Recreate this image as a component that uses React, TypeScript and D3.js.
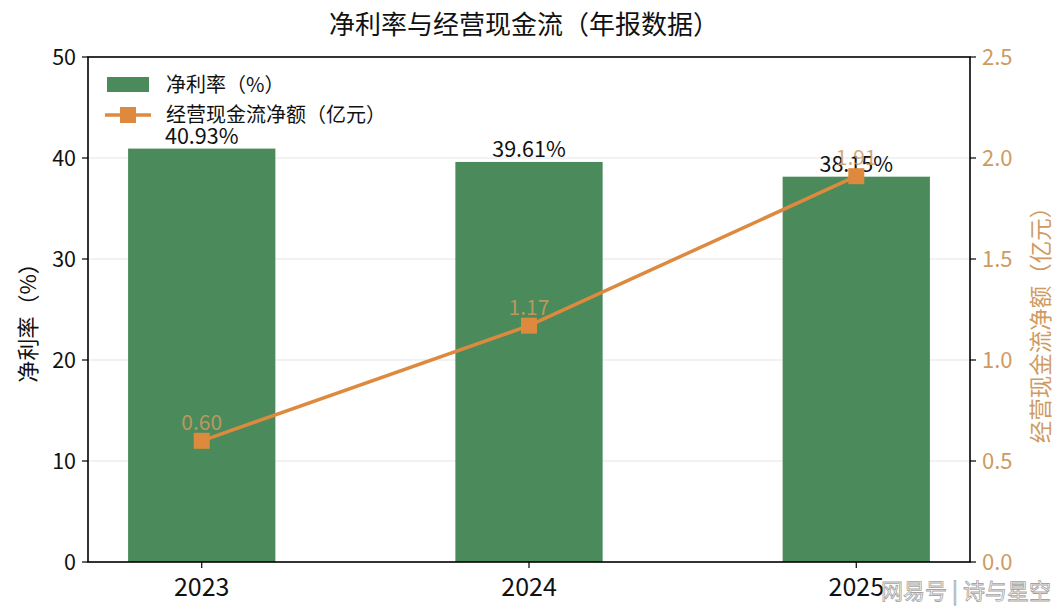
import React from "react";
import * as d3 from "d3";

const years = ["2023", "2024", "2025"];
const netMargin = [40.93, 39.61, 38.15];
const cashFlow = [0.6, 1.17, 1.91];
const leftTicks = [0, 10, 20, 30, 40, 50];
const rightTicks = [0, 0.5, 1.0, 1.5, 2.0, 2.5];

const W = 1064;
const H = 615;
const margin = { top: 57, right: 94, bottom: 53, left: 88 };
const FONT = "'Noto Sans CJK SC', 'Noto Sans', sans-serif";
const GREEN = "#4b8a5b";
const ORANGE = "#dd8a3f";
const TAN = "#cf9a62";

export default function App() {
  const w = W - margin.left - margin.right;
  const h = H - margin.top - margin.bottom;

  // matplotlib-style positions: bars at 0,1,2, width 0.45, 5% margins
  const barW = 0.45;
  const lo = -barW / 2;
  const hi = years.length - 1 + barW / 2;
  const pad = (hi - lo) * 0.05;
  const x = d3.scaleLinear().domain([lo - pad, hi + pad]).range([0, w]);
  const yL = d3.scaleLinear().domain([0, 50]).range([h, 0]);
  const yR = d3.scaleLinear().domain([0, 2.5]).range([h, 0]);

  const line = d3
    .line<number>()
    .x((_, i) => x(i))
    .y((d) => yR(d));

  return (
    <svg width={W} height={H} style={{ position: "absolute", left: 0, top: 0, fontFamily: FONT }}>
      <rect width={W} height={H} fill="#fff" />
      <text x={524} y={34} textAnchor="middle" fontSize={26} fill="#111">
        净利率与经营现金流（年报数据）
      </text>
      <g transform={`translate(${margin.left},${margin.top})`}>
        {/* grid */}
        {leftTicks.slice(1, -1).map((t) => (
          <line key={t} x1={0} x2={w} y1={yL(t)} y2={yL(t)} stroke="#e6e6e6" strokeWidth={1.2} />
        ))}
        {/* bars */}
        {netMargin.map((v, i) => (
          <rect
            key={i}
            x={x(i - barW / 2)}
            y={yL(v)}
            width={x(barW) - x(0)}
            height={h - yL(v)}
            fill={GREEN}
          />
        ))}
        {netMargin.map((v, i) => (
          <text key={i} x={x(i)} y={yL(v) - 5} textAnchor="middle" fontSize={21.5} fill="#111">
            {v.toFixed(2)}%
          </text>
        ))}
        {/* line */}
        <path d={line(cashFlow) ?? ""} fill="none" stroke={ORANGE} strokeWidth={3.5} />
        {cashFlow.map((v, i) => (
          <rect key={i} x={x(i) - 8} y={yR(v) - 8} width={16} height={16} fill={ORANGE} />
        ))}
        {cashFlow.map((v, i) => (
          <text key={i} x={x(i)} y={yR(v) - 11} textAnchor="middle" fontSize={21} fill={TAN} opacity={0.85}>
            {v.toFixed(2)}
          </text>
        ))}
        {/* frame */}
        <rect x={0} y={0} width={w} height={h} fill="none" stroke="#000" strokeWidth={1.6} />
        {/* left axis */}
        {leftTicks.map((t) => (
          <g key={t} transform={`translate(0,${yL(t)})`}>
            <line x1={-6} x2={0} stroke="#000" strokeWidth={1.2} />
            <text x={-12} dy="0.35em" textAnchor="end" fontSize={21.5} fill="#111">
              {t}
            </text>
          </g>
        ))}
        {/* right axis */}
        {rightTicks.map((t) => (
          <g key={t} transform={`translate(${w},${yR(t)})`}>
            <line x1={0} x2={6} stroke="#000" strokeWidth={1.2} />
            <text x={12} dy="0.35em" textAnchor="start" fontSize={22} fill={TAN}>
              {t.toFixed(1)}
            </text>
          </g>
        ))}
        {/* x axis */}
        {years.map((yr, i) => (
          <g key={yr} transform={`translate(${x(i)},${h})`}>
            <line y1={0} y2={6} stroke="#000" strokeWidth={1.2} />
            <text y={34} textAnchor="middle" fontSize={25} fill="#111">
              {yr}
            </text>
          </g>
        ))}
        <text transform={`translate(-52,${h / 2 + 8}) rotate(-90)`} textAnchor="middle" fontSize={22} fill="#111">
          净利率（%）
        </text>
        <text transform={`translate(${w + 79},${h / 2 + 10}) rotate(-90)`} textAnchor="middle" fontSize={22.5} fill={TAN}>
          经营现金流净额（亿元）
        </text>
        {/* legend */}
        <g transform="translate(19,20)">
          <rect x={0} y={0} width={42} height={15} fill={GREEN} />
          <text x={59} y={7.5} dy="0.35em" fontSize={20} fill="#111">
            净利率（%）
          </text>
          <line x1={-2} x2={44} y1={38} y2={38} stroke={ORANGE} strokeWidth={3.5} />
          <rect x={13} y={30} width={16} height={16} fill={ORANGE} />
          <text x={59} y={38} dy="0.35em" fontSize={20} fill="#111">
            经营现金流净额（亿元）
          </text>
        </g>
      </g>
      <text
        x={966}
        y={599}
        textAnchor="middle"
        fontSize={22}
        fill="#fff"
        stroke="#9a9a9a"
        strokeWidth={0.8}
        opacity={0.9}
      >
        网易号 | 诗与星空
      </text>
    </svg>
  );
}
